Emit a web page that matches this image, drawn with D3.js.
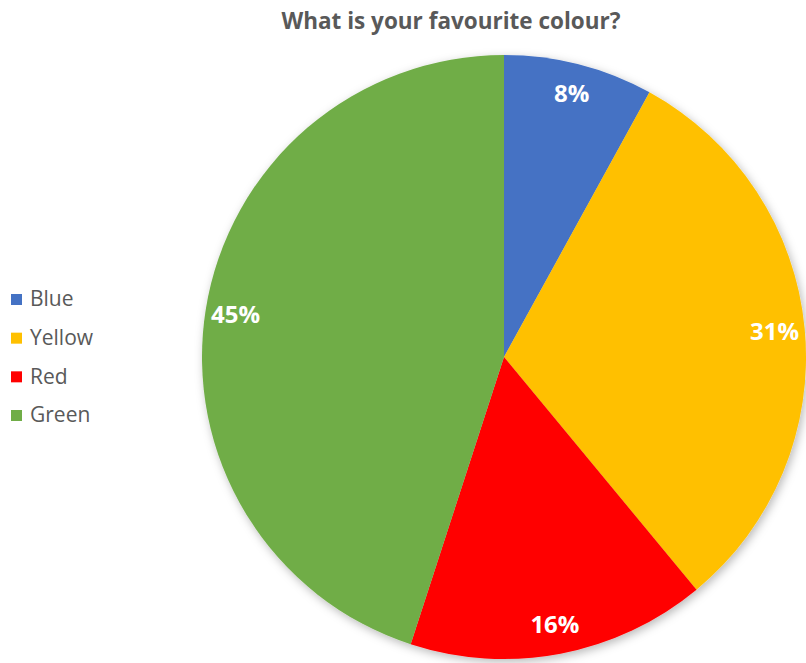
<!DOCTYPE html>
<html>
<head>
<meta charset="utf-8">
<script src="https://cdn.jsdelivr.net/npm/d3@7"></script>
<style>
  html, body { margin: 0; padding: 0; background: #ffffff; }
  svg { display: block; }
</style>
</head>
<body>
<div id="chart"></div>
<script>
// --- Data ---------------------------------------------------------------- //
var categories = ['Blue', 'Yellow', 'Red', 'Green'];
var values = [8, 31, 16, 45];
var colors = ['#4472C4', '#FFC000', '#FF0000', '#70AD47'];
var title = 'What is your favourite colour?';

// --- Layout -------------------------------------------------------------- //
var width = 806, height = 663;
var cx = 504, cy = 357, radius = 302;
var labelRadius = radius * 0.9;
var fontFamily = '"Open Sans", "Noto Sans", sans-serif';

var svg = d3.select('#chart').append('svg')
    .attr('width', width)
    .attr('height', height)
    .attr('viewBox', '0 0 ' + width + ' ' + height);

var defs = svg.append('defs');
var shadow = defs.append('filter')
    .attr('id', 'pieShadow')
    .attr('x', '-20%').attr('y', '-20%')
    .attr('width', '140%').attr('height', '140%');
shadow.append('feDropShadow')
    .attr('dx', 2).attr('dy', 3)
    .attr('stdDeviation', 5)
    .attr('flood-color', '#000')
    .attr('flood-opacity', 0.28);

// title
svg.append('text')
    .attr('x', 451)
    .attr('y', 29)
    .attr('text-anchor', 'middle')
    .attr('font-family', fontFamily)
    .attr('font-weight', 'bold')
    .attr('font-size', '22.5px')
    .attr('fill', '#595959')
    .text(title);

// --- Pie ----------------------------------------------------------------- //
var color = d3.scaleOrdinal().domain(categories).range(colors);

var pie = d3.pie()
    .value(function (d, i) { return values[i]; })
    .sort(null);

var arcs = pie(categories);

var arc = d3.arc().innerRadius(0).outerRadius(radius);
var labelArc = d3.arc().innerRadius(labelRadius).outerRadius(labelRadius);

var total = d3.sum(values);

var pieGroup = svg.append('g')
    .attr('transform', 'translate(' + cx + ',' + cy + ')');

pieGroup.append('g')
    .attr('filter', 'url(#pieShadow)')
    .selectAll('path')
    .data(arcs)
    .enter().append('path')
    .attr('d', arc)
    .attr('fill', function (d) { return color(d.data); });

pieGroup.selectAll('text.sliceLabel')
    .data(arcs)
    .enter().append('text')
    .attr('class', 'sliceLabel')
    .attr('transform', function (d) { return 'translate(' + labelArc.centroid(d) + ')'; })
    .attr('text-anchor', 'middle')
    .attr('dy', '0.36em')
    .attr('font-family', fontFamily)
    .attr('font-weight', 'bold')
    .attr('font-size', '24px')
    .attr('fill', '#ffffff')
    .text(function (d) { return Math.round(d.value / total * 100) + '%'; });

// --- Legend -------------------------------------------------------------- //
var legendY = d3.scalePoint()
    .domain(categories)
    .range([299, 415]);

var legend = svg.append('g').attr('class', 'legend');

var item = legend.selectAll('g')
    .data(categories)
    .enter().append('g')
    .attr('transform', function (d) { return 'translate(0,' + legendY(d) + ')'; });

item.append('rect')
    .attr('x', 11)
    .attr('y', -5)
    .attr('width', 11)
    .attr('height', 11)
    .attr('fill', function (d) { return color(d); });

item.append('text')
    .attr('x', 30)
    .attr('y', 0)
    .attr('dy', '0.35em')
    .attr('font-family', fontFamily)
    .attr('font-size', '21px')
    .attr('fill', '#595959')
    .text(function (d) { return d; });
</script>
</body>
</html>
